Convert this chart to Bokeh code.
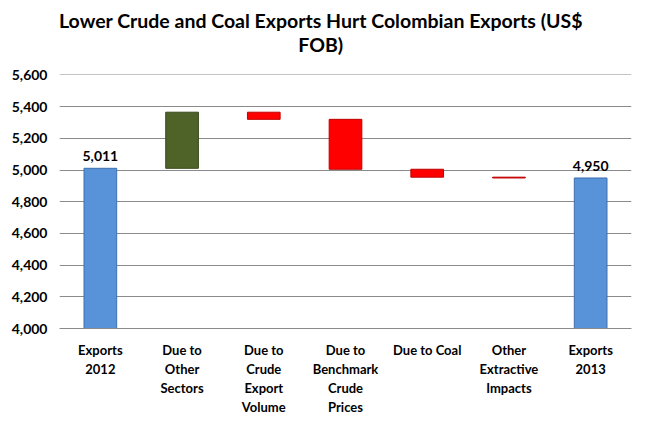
from bokeh.plotting import figure
from bokeh.models import ColumnDataSource, FixedTicker, NumeralTickFormatter, Div
from bokeh.layouts import column
from bokeh.core.properties import value
from bokeh.embed import file_html
from bokeh.resources import INLINE

categories = ["Exports\n2012", "Due to\nOther\nSectors", "Due to\nCrude\nExport\nVolume",
              "Due to\nBenchmark\nCrude\nPrices", "Due to Coal", "Other\nExtractive\nImpacts",
              "Exports\n2013"]
exports_2012 = 5011
changes = [354, -45, -315, -50, -5]
exports_2013 = 4950
y_ticks = [4000, 4200, 4400, 4600, 4800, 5000, 5200, 5400, 5600]
title_lines = ["Lower Crude and Coal Exports Hurt Colombian Exports (US$", "FOB)"]

FONT = "Lato"
BLUE, BLUE_L = "#5892D8", "#3F70AE"
GREEN, GREEN_L = "#4F6228", "#3A4A1C"
RED, RED_L = "#FF0000", "#C00000"

bottoms, tops, fills, lines = [4000], [exports_2012], [BLUE], [BLUE_L]
level = exports_2012
for i, c in enumerate(changes):
    new = level + c
    bottoms.append(min(level, new))
    tops.append(max(level, new))
    if i == 0:
        fills.append(GREEN); lines.append(GREEN_L)
    else:
        fills.append(RED); lines.append(RED_L)
    level = new
bottoms.append(4000); tops.append(exports_2013); fills.append(BLUE); lines.append(BLUE_L)

src = ColumnDataSource(dict(x=categories, bottom=bottoms, top=tops, fill=fills, line=lines))

title_div = Div(
    text=('<div style="text-align:center;font-family:Lato;font-weight:bold;'
          'font-size:19.5px;line-height:24px;color:black;white-space:nowrap;">'
          + "<br>".join(title_lines) + "</div>"),
    width=572, height=48, margin=(9, 6, 0, 59))

p = figure(x_range=categories, y_range=(4000, 5603), frame_width=572, frame_height=254,
           output_backend="svg", toolbar_location=None,
           min_border_left=59, min_border_right=6, min_border_top=17, min_border_bottom=80)
p.outline_line_color = None
p.background_fill_color = "white"

p.vbar(x="x", bottom="bottom", top="top", width=0.40, source=src,
       fill_color="fill", line_color="line", line_width=1)

p.xgrid.grid_line_color = None
p.ygrid.grid_line_color = "#8A8A8A"
p.ygrid.grid_line_width = 1
p.yaxis.ticker = FixedTicker(ticks=y_ticks)
p.yaxis.formatter = NumeralTickFormatter(format="0,0")
p.yaxis.axis_line_color = None
p.yaxis.major_tick_line_color = None
p.yaxis.minor_tick_line_color = None
p.yaxis.major_tick_out = 0
p.yaxis.major_label_text_font = FONT
p.yaxis.major_label_text_font_style = "bold"
p.yaxis.major_label_text_font_size = "14px"
p.yaxis.major_label_text_color = "black"
p.yaxis.major_label_standoff = 12

p.xaxis.axis_line_color = "#8A8A8A"
p.xaxis.major_tick_line_color = None
p.xaxis.minor_tick_line_color = None
p.xaxis.major_tick_out = 0
p.xaxis.major_label_text_font = FONT
p.xaxis.major_label_text_font_style = "bold"
p.xaxis.major_label_text_font_size = "13px"
p.xaxis.major_label_text_color = "black"
p.xaxis.major_label_standoff = 13

lbl_src = ColumnDataSource(dict(x=[categories[0], categories[-1]],
                                y=[exports_2012, exports_2013],
                                t=[f"{exports_2012:,}", f"{exports_2013:,}"]))
p.text(x="x", y="y", text="t", source=lbl_src, text_align="center", text_baseline="bottom",
       y_offset=-7, text_font=value(FONT), text_font_style="bold", text_font_size="14px",
       text_color="black")

layout = column(title_div, p, spacing=0)
open("out.html", "w").write(file_html(layout, INLINE))
